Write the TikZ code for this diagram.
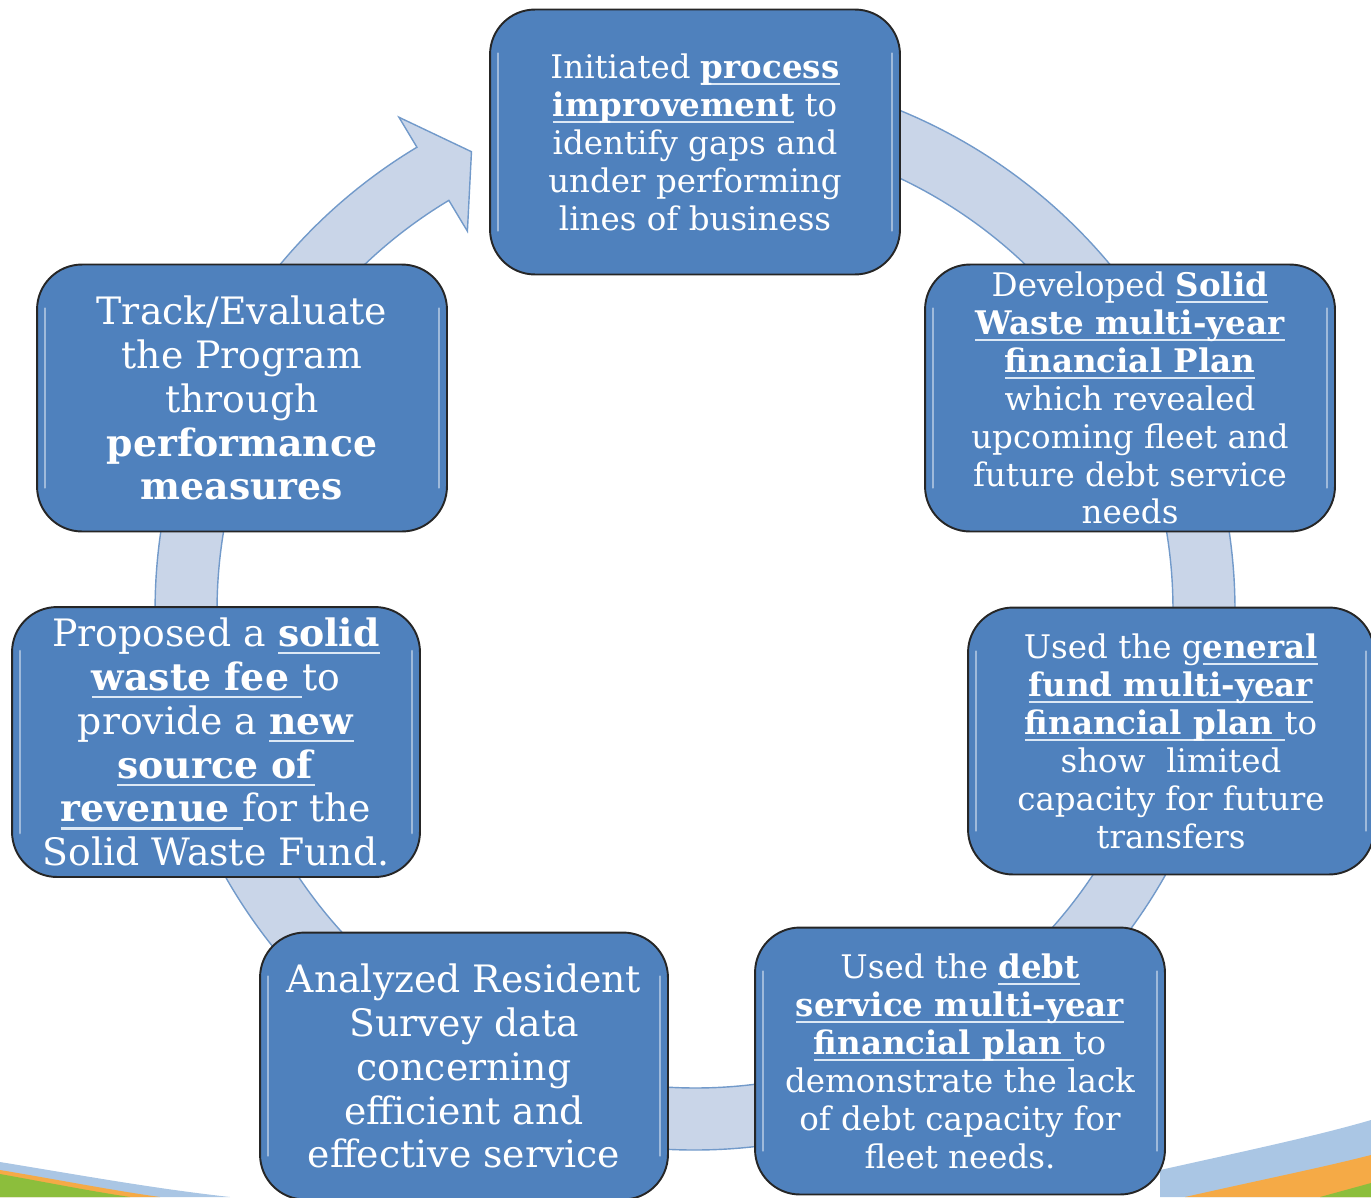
\documentclass[tikz,border=0pt]{standalone}
\usepackage{fontspec}
\setmainfont{DejaVu Serif}
\usepackage{xcolor}
\usepackage{tikz}
\usetikzlibrary{calc,positioning}
\definecolor{azul}{RGB}{79,129,189}
\definecolor{anillo}{RGB}{201,213,232}
\definecolor{celeste}{RGB}{170,198,228}
\definecolor{naranja}{RGB}{245,170,70}
\definecolor{verde}{RGB}{140,190,60}
\definecolor{raya}{RGB}{220,232,245}
\newsavebox\cajita
\newcommand\rayado[1]{\sbox\cajita{\textbf{#1}}%
  \rlap{\textcolor{raya}{\rule[-0.2em]{\wd\cajita}{1.2pt}}}\usebox\cajita}
\newcommand\chico{\fontsize{18.5pt}{21.6pt}\selectfont}
\newcommand\grande{\fontsize{21.5pt}{25pt}\selectfont}
\tikzset{
  caja/.style={rectangle,rounded corners=0.9cm,fill=azul,draw=black!85,line width=1.1pt,
    text=white,align=center,minimum width=8.2cm,minimum height=5.34cm,inner sep=0pt,font=\chico},
  flecha/.style={fill=anillo,draw=azul!80,line width=0.8pt},
  brillo/.style={draw=white!65!azul,line width=1.6pt,line cap=round,opacity=0.7}
}
\begin{document}
\begin{tikzpicture}[x=0.02cm,y=-0.02cm]
\useasboundingbox (0,0) rectangle (1371,1197);
\clip (0,0) rectangle (1371,1197);
% fondo
\fill[celeste] (0,1162) .. controls (80,1175) and (150,1188) .. (230,1197) -- (0,1197) -- cycle;
\fill[naranja] (0,1170) .. controls (60,1180) and (110,1190) .. (160,1197) -- (0,1197) -- cycle;
\fill[verde] (0,1174) .. controls (50,1183) and (90,1191) .. (130,1197) -- (0,1197) -- cycle;
\fill[celeste] (1160,1170) .. controls (1250,1150) and (1320,1135) .. (1371,1120) -- (1371,1197) -- (1160,1197) -- cycle;
\fill[naranja] (1185,1197) .. controls (1260,1180) and (1320,1168) .. (1371,1155) -- (1371,1197) -- cycle;
\fill[verde] (1320,1197) -- (1371,1183) -- (1371,1197) -- cycle;
% anillo con flecha
\begin{scope}[shift={(695,610)}]
\draw[flecha] (100:10.8cm) arc[start angle=100,end angle=-239,radius=10.8cm]
  -- (121:11.5cm) -- (116:10.2cm) -- (121:8.84cm) -- (121:9.56cm)
  arc[start angle=-239,end angle=100,radius=9.56cm] -- cycle;
\end{scope}
% cajas
\node[caja,minimum height=5.3cm] (top) at (695,142) {Initiated \rayado{process}\\
  \rayado{improvement} to\\ identify gaps and\\ under performing\\ lines of business};
\node[caja] (ru) at (1130,398) {Developed \rayado{Solid}\\ \rayado{Waste multi-year}\\
  \rayado{financial Plan}\\ which revealed\\ upcoming fleet and\\ future debt service\\ needs};
\node[caja,minimum width=8.12cm] (rl) at (1171,741) {Used the g\rayado{eneral}\\
  \rayado{fund multi-year}\\ \rayado{financial plan\ }to\\ show\ \ limited\\
  capacity for future\\ transfers};
\node[caja] (br) at (960,1061) {Used the \rayado{debt}\\ \rayado{service multi-year}\\
  \rayado{financial plan\ }to\\ demonstrate the lack\\ of debt capacity for\\ fleet needs.};
\node[caja,font=\grande,minimum width=8.16cm] (bl) at (464,1066) {Analyzed Resident\\
  Survey data\\ concerning\\ efficient and\\ effective service};
\node[caja,font=\grande,minimum width=8.16cm,minimum height=5.4cm] (ll) at (216,742)
  {Proposed a \rayado{solid}\\ \rayado{waste fee\ }to\\ provide a \rayado{new}\\
  \rayado{source of}\\ \rayado{revenue\ }for the\\ Solid Waste Fund.};
\node[caja,font=\grande] (lu) at (242,398) {Track/Evaluate\\ the Program\\ through\\
  \textbf{performance}\\ \textbf{measures}};
% brillos
\foreach \n in {top,ru,rl,br,bl,ll,lu}{
  \draw[brillo] ($(\n.north west)+(9,45)$) -- ($(\n.south west)+(9,-45)$);
  \draw[brillo] ($(\n.north east)+(-9,45)$) -- ($(\n.south east)+(-9,-45)$);
}
\end{tikzpicture}
\end{document}
